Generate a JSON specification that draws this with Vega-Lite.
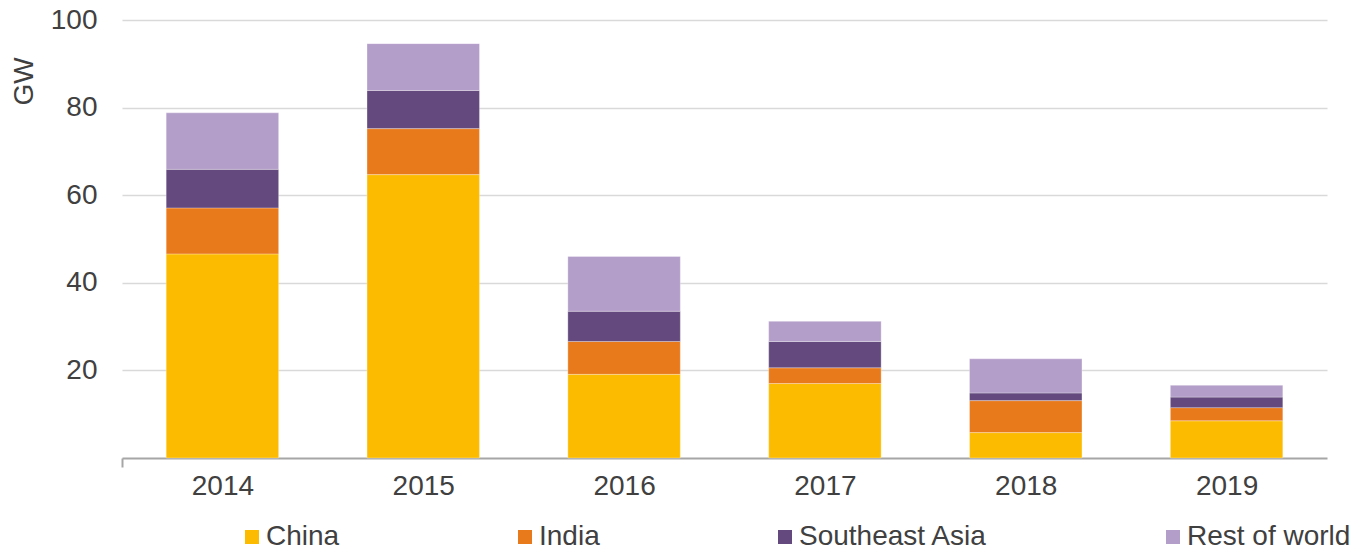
{
  "$schema": "https://vega.github.io/schema/vega-lite/v6.json",
  "width": 1205,
  "height": 438,
  "autosize": {"type": "none"},
  "padding": {"left": 122, "top": 20, "right": 36, "bottom": 91},
  "background": "#ffffff",
  "config": {
    "view": {"stroke": null},
    "font": "Liberation Sans",
    "axis": {"labelFont": "Liberation Sans", "titleFont": "Liberation Sans", "labelColor": "#404040", "titleColor": "#404040", "labelFontSize": 28, "titleFontSize": 28, "titleFontWeight": "normal"},
    "legend": {"labelFont": "Liberation Sans", "labelFontSize": 28, "labelColor": "#404040"}
  },
  "data": {
    "values": [
      {"year": "2014", "region": "China", "rank": 1, "gw": 46.6},
      {"year": "2014", "region": "India", "rank": 2, "gw": 10.5},
      {"year": "2014", "region": "Southeast Asia", "rank": 3, "gw": 8.8},
      {"year": "2014", "region": "Rest of world", "rank": 4, "gw": 12.9},
      {"year": "2015", "region": "China", "rank": 1, "gw": 64.7},
      {"year": "2015", "region": "India", "rank": 2, "gw": 10.5},
      {"year": "2015", "region": "Southeast Asia", "rank": 3, "gw": 8.7},
      {"year": "2015", "region": "Rest of world", "rank": 4, "gw": 10.7},
      {"year": "2016", "region": "China", "rank": 1, "gw": 19.1},
      {"year": "2016", "region": "India", "rank": 2, "gw": 7.5},
      {"year": "2016", "region": "Southeast Asia", "rank": 3, "gw": 6.9},
      {"year": "2016", "region": "Rest of world", "rank": 4, "gw": 12.5},
      {"year": "2017", "region": "China", "rank": 1, "gw": 17.0},
      {"year": "2017", "region": "India", "rank": 2, "gw": 3.6},
      {"year": "2017", "region": "Southeast Asia", "rank": 3, "gw": 6.0},
      {"year": "2017", "region": "Rest of world", "rank": 4, "gw": 4.6},
      {"year": "2018", "region": "China", "rank": 1, "gw": 5.8},
      {"year": "2018", "region": "India", "rank": 2, "gw": 7.3},
      {"year": "2018", "region": "Southeast Asia", "rank": 3, "gw": 1.75},
      {"year": "2018", "region": "Rest of world", "rank": 4, "gw": 7.8},
      {"year": "2019", "region": "China", "rank": 1, "gw": 8.5},
      {"year": "2019", "region": "India", "rank": 2, "gw": 3.0},
      {"year": "2019", "region": "Southeast Asia", "rank": 3, "gw": 2.4},
      {"year": "2019", "region": "Rest of world", "rank": 4, "gw": 2.7}
    ]
  },
  "mark": {"type": "bar", "stroke": "#ffffff", "strokeWidth": 0.5, "strokeOpacity": 0.6},
  "encoding": {
    "x": {
      "field": "year",
      "type": "nominal",
      "scale": {"paddingInner": 0.44, "paddingOuter": 0.22},
      "axis": {
        "title": null,
        "labelAngle": 0,
        "labelPadding": 5,
        "labelOffset": 100,
        "domainColor": "#A6A6A6",
        "domainWidth": 2,
        "tickSize": 9,
        "tickWidth": 2,
        "tickColor": "#A6A6A6",
        "tickOffset": -100,
        "tickOpacity": {"condition": {"test": "datum.index === 0", "value": 1}, "value": 0}
      }
    },
    "y": {
      "field": "gw",
      "type": "quantitative",
      "stack": "zero",
      "scale": {"domain": [0, 100], "nice": false},
      "axis": {
        "title": "GW",
        "values": [20, 40, 60, 80, 100],
        "domain": false,
        "ticks": false,
        "labelPadding": 25,
        "gridColor": "#D9D9D9",
        "gridWidth": 1.5,
        "titleAngle": -90,
        "titleX": -98,
        "titleY": 61,
        "titleAlign": "center",
        "titleBaseline": "middle"
      }
    },
    "order": {"field": "rank", "type": "quantitative", "sort": "ascending"},
    "color": {
      "field": "region",
      "type": "nominal",
      "scale": {
        "domain": ["China", "India", "Southeast Asia", "Rest of world"],
        "range": ["#FDBB00", "#E97A1B", "#63497D", "#B39DC9"]
      },
      "legend": {
        "title": null,
        "orient": "none",
        "direction": "horizontal",
        "legendX": 116,
        "legendY": 503,
        "symbolType": "square",
        "symbolSize": 196,
        "symbolStrokeWidth": 0,
        "labelOffset": 0,
        "columnPadding": 171,
        "labelLimit": 400
      }
    }
  }
}
